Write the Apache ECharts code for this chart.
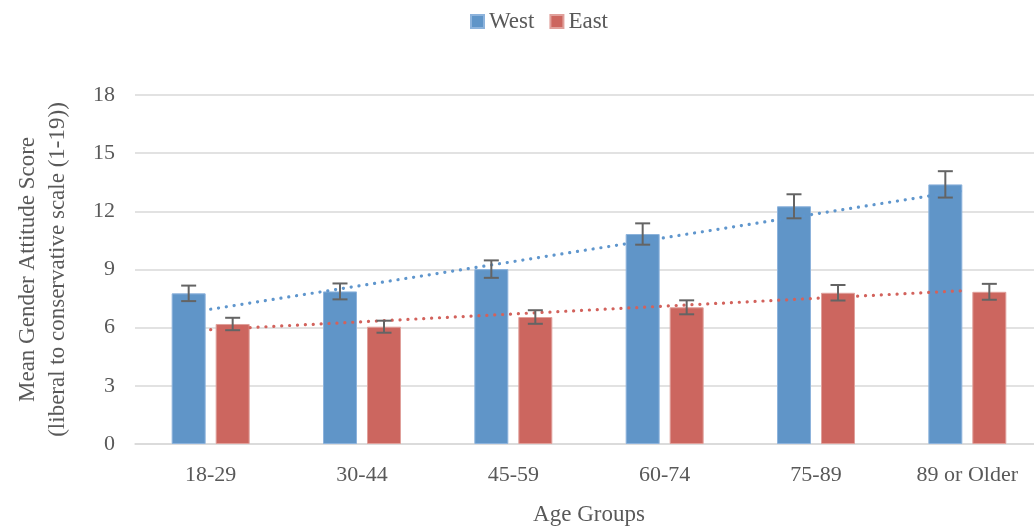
<!DOCTYPE html>
<html>
<head>
<meta charset="utf-8">
<script src="https://cdn.jsdelivr.net/npm/echarts@6/dist/echarts.min.js"></script>
<style>
html,body{margin:0;padding:0;background:#fff;}
#demo{width:1034px;height:532px;}
</style>
</head>
<body>
<div id="demo"></div>
<script>
var categories = ['18-29', '30-44', '45-59', '60-74', '75-89', '89 or Older'];
var westValues = [7.77, 7.87, 9.02, 10.83, 12.26, 13.39];
var eastValues = [6.19, 6.05, 6.55, 7.05, 7.80, 7.85];
// error bar half widths
var westErr = [0.40, 0.41, 0.45, 0.55, 0.62, 0.68];
var eastErr = [0.32, 0.31, 0.35, 0.36, 0.40, 0.41];
// dotted trend lines, start / end values
var westTrend = [6.95, 13.1];
var eastTrend = [5.9, 7.92];
var yTicks = [0, 3, 6, 9, 12, 15, 18];

var font = '"Liberation Serif", "DejaVu Serif", serif';
var BAR_W = 34, BAR_GAP = 10;

function errData(vals, errs) {
    var out = [];
    for (var i = 0; i < vals.length; i++) {
        out.push([i, vals[i] - errs[i], vals[i] + errs[i]]);
    }
    return out;
}

function errRender(offset) {
    return function (params, api) {
        var lo = api.coord([api.value(0), api.value(1)]);
        var hi = api.coord([api.value(0), api.value(2)]);
        var x = lo[0] + offset;
        var half = 7.5;
        var st = { stroke: '#646464', lineWidth: 2 };
        return {
            type: 'group',
            children: [
                { type: 'line', shape: { x1: x, y1: lo[1], x2: x, y2: hi[1] }, style: st },
                { type: 'line', shape: { x1: x - half, y1: lo[1], x2: x + half, y2: lo[1] }, style: st },
                { type: 'line', shape: { x1: x - half, y1: hi[1], x2: x + half, y2: hi[1] }, style: st }
            ]
        };
    };
}

var off = (BAR_W + BAR_GAP) / 2;
var last = categories.length - 1;

var mychar = echarts.init(document.getElementById('demo'));
mychar.setOption({
    animation: false,
    textStyle: { fontFamily: font },
    legend: {
        data: ['West', 'East'],
        top: 5,
        left: 465,
        icon: 'rect',
        itemWidth: 13,
        itemHeight: 13,
        itemGap: 15,
        textStyle: { fontFamily: font, fontSize: 23, color: '#595959' }
    },
    grid: { left: 135, top: 95, width: 908, height: 349, containLabel: false, outerBoundsMode: 'none' },
    xAxis: {
        type: 'category',
        data: categories,
        name: 'Age Groups',
        nameLocation: 'middle',
        nameGap: 59,
        nameTextStyle: { fontFamily: font, fontSize: 23, color: '#595959' },
        axisLine: { show: true, lineStyle: { color: '#d9d9d9', width: 1.5 } },
        axisTick: { show: false },
        axisLabel: { fontFamily: font, fontSize: 22, color: '#595959', margin: 20, interval: 0 }
    },
    yAxis: {
        type: 'value',
        min: yTicks[0],
        max: yTicks[yTicks.length - 1],
        interval: 3,
        name: 'Mean Gender Attitude Score\n(liberal to conservative scale (1-19))',
        nameLocation: 'middle',
        nameGap: 62,
        nameTextStyle: { fontFamily: font, fontSize: 23, color: '#595959', lineHeight: 30 },
        axisLine: { show: false },
        axisTick: { show: false },
        axisLabel: { fontFamily: font, fontSize: 22, color: '#595959', margin: 20 },
        splitLine: { lineStyle: { color: '#d9d9d9', width: 1.5 } }
    },
    series: [
        {
            name: 'West',
            type: 'bar',
            data: westValues,
            barWidth: BAR_W,
            barGap: (BAR_GAP / BAR_W * 100) + '%',
            itemStyle: { color: '#6095c8', borderColor: '#8db3dc', borderWidth: 1 }
        },
        {
            name: 'East',
            type: 'bar',
            data: eastValues,
            barWidth: BAR_W,
            itemStyle: { color: '#cc665f', borderColor: '#e0a09b', borderWidth: 1 }
        },
        {
            name: 'West trend',
            type: 'line',
            data: [[0, westTrend[0]], [last, westTrend[1]]],
            symbol: 'none',
            z: 5,
            lineStyle: { color: '#5f96cd', width: 3.2, type: [0.1, 7.8], cap: 'round' }
        },
        {
            name: 'East trend',
            type: 'line',
            data: [[0, eastTrend[0]], [last, eastTrend[1]]],
            symbol: 'none',
            z: 5,
            lineStyle: { color: '#d2625c', width: 3.2, type: [0.1, 7.8], cap: 'round' }
        },
        {
            name: 'West err',
            type: 'custom',
            renderItem: errRender(-off),
            data: errData(westValues, westErr),
            z: 6
        },
        {
            name: 'East err',
            type: 'custom',
            renderItem: errRender(off),
            data: errData(eastValues, eastErr),
            z: 6
        }
    ]
});
</script>
</body>
</html>
